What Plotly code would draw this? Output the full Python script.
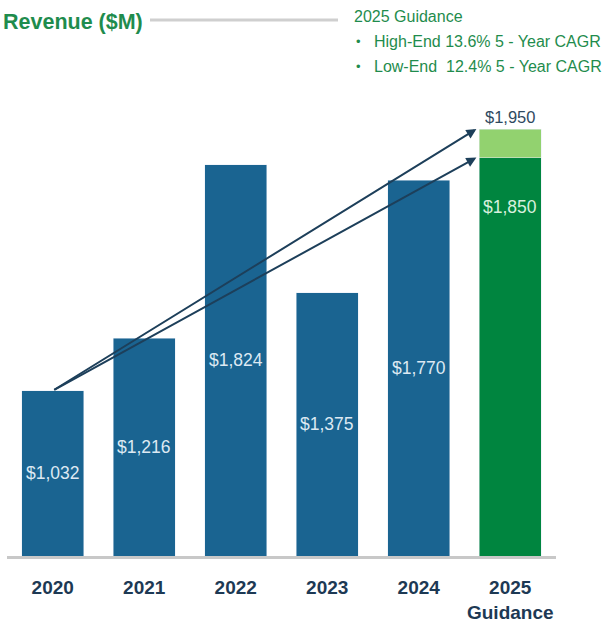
import plotly.graph_objects as go

# data
years = ["2020", "2021", "2022", "2023", "2024", "2025<br>Guidance"]
revenue = [1032, 1216, 1824, 1375, 1770, None]
guide_low = 1850
guide_high = 1950
start_val = 1032
labels = ["$1,032", "$1,216", "$1,824", "$1,375", "$1,770"]
cagr_lines = ["High-End 13.6% 5 - Year CAGR", "Low-End\u00a0 12.4% 5 - Year CAGR"]

FONT = "Liberation Sans, Arial"
BLUE = "#1a6491"
GREEN = "#00853f"
LIGHT_GREEN = "#92d26f"
TEXT_GREEN = "#1f8c4d"
NAVY = "#1d3954"
Y0 = 452  # axis does not start at zero

fig = go.Figure()

fig.add_trace(go.Bar(x=years, y=revenue, marker_color=BLUE, textposition="none"))
fig.add_trace(go.Bar(x=[years[5]], y=[guide_low], marker_color=GREEN, textposition="none"))
fig.add_trace(go.Bar(x=[years[5]], y=[guide_high - guide_low],
                     marker_color=LIGHT_GREEN, textposition="none"))

# value labels, centred in the visible part of each bar
# (category index as x: "2020" would be read as position 2020)
for i, (v, lab) in enumerate(zip(revenue, labels)):
    fig.add_annotation(x=i, y=(Y0 + v) / 2, text=lab, showarrow=False,
                       font=dict(family=FONT, size=17.5, color="#dde9f3"))

fig.add_annotation(x=5, y=guide_low, text="$1,850", showarrow=False,
                   yanchor="middle", yshift=-49,
                   font=dict(family=FONT, size=17.5, color="#d8f0de"))
fig.add_annotation(x=5, y=guide_high, text="$1,950", showarrow=False,
                   yanchor="bottom", yshift=1,
                   font=dict(family=FONT, size=16.5, color="#2f4a5f"))

# CAGR arrows from 2020 to the guidance range
for end in (guide_high, guide_low):
    fig.add_annotation(x=4.63, y=end, ax=0, ay=start_val,
                       xref="x", yref="y", axref="x", ayref="y",
                       text="", showarrow=True, arrowhead=2, arrowsize=1,
                       arrowwidth=2, arrowcolor="#1d3f5a", standoff=0)

# header text
fig.add_annotation(xref="paper", yref="paper", x=(352 - 7) / 549, y=(556 - 17) / 456,
                   xanchor="left", yanchor="middle", showarrow=False,
                   text="2025 Guidance", font=dict(family=FONT, size=16, color=TEXT_GREEN))
for i, line in enumerate(cagr_lines):
    yy = (556 - (42 + 25 * i)) / 456
    fig.add_annotation(xref="paper", yref="paper", x=(354 - 7) / 549, y=yy,
                       xanchor="left", yanchor="middle", showarrow=False,
                       text="•", font=dict(family=FONT, size=13, color=TEXT_GREEN))
    fig.add_annotation(xref="paper", yref="paper", x=(372 - 7) / 549, y=yy,
                       xanchor="left", yanchor="middle", showarrow=False,
                       text=line, font=dict(family=FONT, size=16, color=TEXT_GREEN))

# grey rule next to the title
fig.add_shape(type="line", xref="paper", yref="paper",
              x0=(150 - 7) / 549, x1=(338 - 7) / 549,
              y0=(556 - 20) / 456, y1=(556 - 20) / 456,
              line=dict(color="#cfcfcf", width=3))

fig.update_layout(
    width=605, height=630,
    margin=dict(l=7, r=49, t=100, b=74),
    paper_bgcolor="white", plot_bgcolor="white",
    barmode="stack", bargap=0.32, showlegend=False,
    title=dict(text="<b>Revenue ($M)</b>", xref="container", yref="container",
               x=3 / 605, xanchor="left", y=1 - 21 / 630, yanchor="middle",
               font=dict(family=FONT, size=21.5, color=TEXT_GREEN)),
    xaxis=dict(type="category", range=[-0.5, 5.5], showline=True,
               linecolor="#c8c8c8", linewidth=3,
               ticks="", ticklabelstandoff=12,
               tickfont=dict(family=FONT, size=19, color=NAVY, weight="bold"),
               showgrid=False),
    yaxis=dict(range=[Y0, 2052], visible=False, showgrid=False),
)

fig.write_html("out.html", config={"displayModeBar": False},
               post_script="document.body.style.margin='0';")
